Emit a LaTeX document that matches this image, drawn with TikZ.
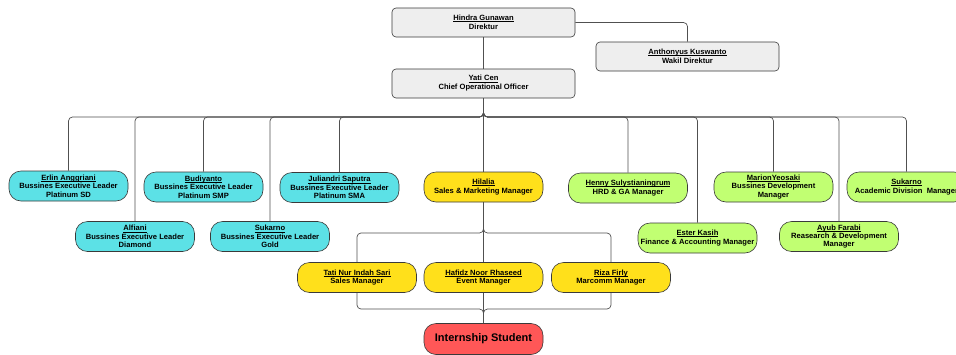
\documentclass[tikz,border=0pt]{standalone}
\usepackage{fontspec}
\setmainfont{Liberation Sans}
\definecolor{cyanf}{HTML}{5CE1E6}
\definecolor{yelf}{HTML}{FFE01B}
\definecolor{grnf}{HTML}{C1FF72}
\definecolor{redf}{HTML}{FF5757}
\definecolor{gryf}{HTML}{EEEEEE}
\definecolor{edge}{HTML}{3A3A3A}
\definecolor{connc}{HTML}{505050}
\newcommand\nm[1]{\setbox0\hbox{#1}\usebox0\llap{\rule[-1.1pt]{\wd0}{0.5pt}}}
\tikzset{
  pill/.style={draw=edge, line width=0.6pt, rounded corners=12pt, minimum width=119pt, minimum height=30pt,
    inner xsep=1pt, inner ysep=2pt, align=center, font=\fontsize{7.6}{8.3}\selectfont\bfseries},
  gbox/.style={draw=edge, line width=0.6pt, fill=gryf, rounded corners=4pt, minimum width=183pt, minimum height=29pt,
    inner sep=2pt, align=center, font=\fontsize{7.6}{9}\selectfont\bfseries},
  conn/.style={draw=connc, line width=0.7pt, rounded corners=4pt},
}
\begin{document}
\begin{tikzpicture}[x=1pt,y=-1pt]
\useasboundingbox (0,0) rectangle (956,354);
\fill[white] (0,0) rectangle (956,354);
% top
\node[gbox] (hindra) at (483.5,22.5) {\nm{Hindra Gunawan}\\Direktur};
\node[gbox] (anth) at (687.5,56.5) {\nm{Anthonyus Kuswanto}\\Wakil Direktur};
\node[gbox] (yati) at (483.5,83.5) {\nm{Yati Cen}\\Chief Operational Officer};
% cyan
\node[pill, fill=cyanf] (erlin) at (68.5,186) {\nm{Erlin Anggriani}\\Bussines Executive Leader\\Platinum SD};
\node[pill, fill=cyanf] (alfiani) at (135,236.5) {\nm{Alfiani}\\Bussines Executive Leader\\Diamond};
\node[pill, fill=cyanf] (budi) at (203.5,187) {\nm{Budiyanto}\\Bussines Executive Leader\\Platinum SMP};
\node[pill, fill=cyanf] (sukg) at (270,236.5) {\nm{Sukarno}\\Bussines Executive Leader\\Gold};
\node[pill, fill=cyanf] (juli) at (339.5,187.5) {\nm{Juliandri Saputra}\\Bussines Executive Leader\\Platinum SMA};
% yellow
\node[pill, fill=yelf] (hila) at (483.5,187) {\nm{Hilalia}\\Sales \& Marketing Manager};
\node[pill, fill=yelf] (tati) at (357,277.5) {\nm{Tati Nur Indah Sari}\\Sales Manager};
\node[pill, fill=yelf] (hafidz) at (483.5,277.5) {\nm{Hafidz Noor Rhaseed}\\Event Manager};
\node[pill, fill=yelf] (riza) at (611,277.5) {\nm{Riza Firly}\\Marcomm Manager};
\node[pill, fill=redf, minimum height=31pt, font=\fontsize{11}{12}\selectfont\bfseries] (intern) at (483.5,339) {Internship Student};
% green
\node[pill, fill=grnf] (henny) at (628,188) {\nm{Henny Sulystianingrum}\\HRD \& GA Manager};
\node[pill, fill=grnf] (ester) at (697.5,238) {\nm{Ester Kasih}\\Finance \& Accounting Manager};
\node[pill, fill=grnf] (marion) at (773.5,187) {\nm{MarionYeosaki}\\Bussines Development\\Manager};
\node[pill, fill=grnf] (ayub) at (839,236.5) {\nm{Ayub Farabi}\\Reasearch \& Development\\Manager};
\node[pill, fill=grnf] (suka) at (906.5,187) {\nm{Sukarno}\\Academic Division~ Manager};
% connectors
\coordinate (bus) at (483.5,117);
\coordinate (hb) at (483.5,233);
\coordinate (bb) at (483.5,309);
\draw[conn] (hindra.south) -- (yati.north);
\draw[conn] (hindra.east) -| (anth.north);
\foreach \n in {erlin,alfiani,budi,sukg,juli,hila,henny,ester,marion,ayub,suka}
  \draw[conn] (yati.south) -- (bus) -| (\n.north);
\foreach \n in {tati,hafidz,riza}
  \draw[conn] (hila.south) -- (hb) -| (\n.north);
\foreach \n in {tati,hafidz,riza}
  \draw[conn] (\n.south) |- (bb) -- (intern.north);
\end{tikzpicture}
\end{document}
